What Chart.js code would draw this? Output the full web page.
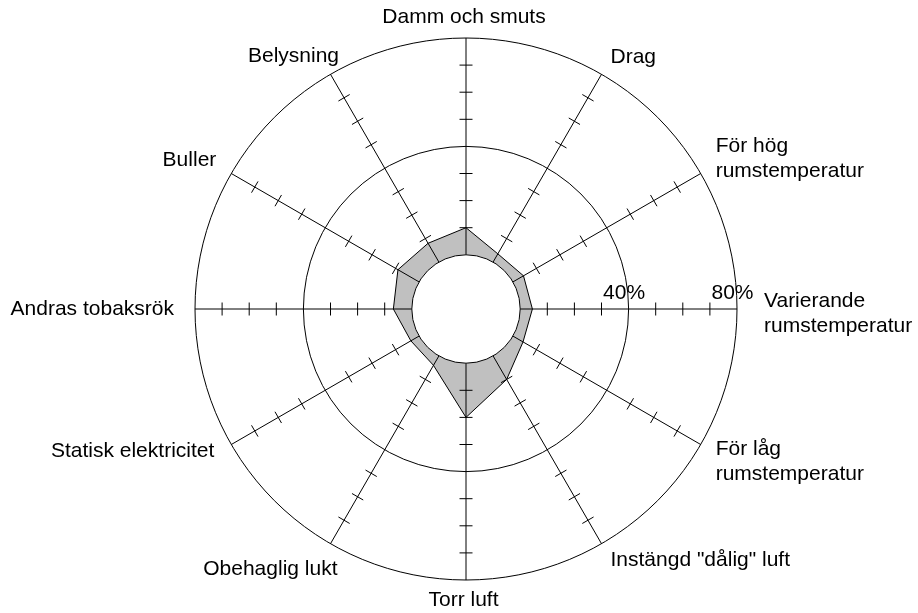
<!DOCTYPE html>
<html>
<head>
<meta charset="utf-8">
<script src="https://cdn.jsdelivr.net/npm/chart.js@4/dist/chart.umd.min.js"></script>
<style>
  html, body { margin: 0; padding: 0; background: #fff; }
  #wrap { width: 918px; height: 613px; }
</style>
</head>
<body>
<div id="wrap"><canvas id="miGrafico"></canvas></div>
<script>
// kategorier medurs från toppen
const kategorier = [
  'Damm och smuts',
  'Drag',
  ['För hög', 'rumstemperatur'],
  ['Varierande', 'rumstemperatur'],
  ['För låg', 'rumstemperatur'],
  'Instängd "dålig" luft',
  'Torr luft',
  'Obehaglig lukt',
  'Statisk elektricitet',
  'Andras tobaksrök',
  'Buller',
  'Belysning'
];

// andel (%) som upplever besvär
const andelar = [10, 3.5, 4.5, 4.5, 4.3, 10, 20, 4, 3.5, 6.8, 9, 8];

// cirklar med text, och små streck på ekrarna
const skalMarkeringar = [40, 80];
const streckVarden = [10, 20, 30, 50, 60, 70];

const typsnitt = '21px "Liberation Sans", Arial, sans-serif';

// förskjutning av etiketterna från ekerns yttre ände
const etikettFlytt = [
  [-2, -21], [9, -17.6], [15, -15], [27, 4.5], [15, 17], [9, 17],
  [-2.5, 20], [7, 26], [-17, 6.5], [-21, 0], [-15, -13.5], [8.5, -18]
];

const extraRitning = {
  id: 'extraRitning',
  afterDraw(chart) {
    const s = chart.scales.r;
    const ctx = chart.ctx;
    const n = chart.data.labels.length;
    const r0 = s.getDistanceFromCenterForValue(0);
    ctx.save();
    ctx.strokeStyle = '#000';
    ctx.lineWidth = 1;

    // ekrar ovanpå ytan, och små streck tvärs över dem
    for (let i = 0; i < n; i++) {
      const inre = s.getPointPosition(i, r0);
      const yttre = s.getPointPosition(i, s.drawingArea);
      ctx.beginPath();
      ctx.moveTo(inre.x, inre.y);
      ctx.lineTo(yttre.x, yttre.y);
      ctx.stroke();

      const a = s.getIndexAngle(i) - Math.PI / 2;
      const px = -Math.sin(a), py = Math.cos(a);
      streckVarden.forEach(v => {
        const p = s.getPointPosition(i, s.getDistanceFromCenterForValue(v));
        ctx.beginPath();
        ctx.moveTo(p.x - px * 6.5, p.y - py * 6.5);
        ctx.lineTo(p.x + px * 6.5, p.y + py * 6.5);
        ctx.stroke();
      });
    }

    // vitt hål i mitten (0 %)
    ctx.beginPath();
    ctx.arc(s.xCenter, s.yCenter, r0, 0, 2 * Math.PI);
    ctx.fillStyle = '#fff';
    ctx.fill();
    ctx.stroke();

    // 40% och 80%
    ctx.fillStyle = '#000';
    ctx.font = typsnitt;
    ctx.textAlign = 'center';
    ctx.textBaseline = 'alphabetic';
    skalMarkeringar.forEach(v => {
      const p = s.getPointPosition(3, s.getDistanceFromCenterForValue(v));
      ctx.fillText(v + '%', p.x - 4.5, p.y - 10);
    });

    // kategorietiketter
    ctx.textBaseline = 'middle';
    for (let i = 0; i < n; i++) {
      const rader = [].concat(chart.data.labels[i]);
      const e = s.getPointPosition(i, s.drawingArea);
      const sin = Math.sin(s.getIndexAngle(i));
      ctx.textAlign = Math.abs(sin) < 0.01 ? 'center' : (sin > 0 ? 'left' : 'right');
      const x = e.x + etikettFlytt[i][0];
      const y0 = e.y + etikettFlytt[i][1] - (rader.length - 1) * 25 / 2;
      rader.forEach((t, k) => ctx.fillText(t, x, y0 + k * 25));
    }
    ctx.restore();
  }
};

var ctx = document.getElementById('miGrafico').getContext('2d');

var chart = new Chart(ctx, {
  type: 'radar',
  data: {
    labels: kategorier,
    datasets: [{
      label: 'Besvär',
      data: andelar,
      backgroundColor: '#c0c0c0',
      borderColor: '#000',
      borderWidth: 1,
      pointRadius: 0,
      fill: true
    }]
  },
  options: {
    responsive: true,
    maintainAspectRatio: false,
    animation: false,
    layout: { padding: { top: 38, bottom: 33, left: 15, right: 0 } },
    plugins: {
      legend: { display: false },
      tooltip: { enabled: false }
    },
    scales: {
      r: {
        z: 1,
        min: -20,
        max: 80,
        ticks: { display: false, stepSize: 10 },
        grid: {
          circular: true,
          lineWidth: 1,
          color: c => skalMarkeringar.includes(c.tick.value) ? '#000' : 'rgba(0,0,0,0)'
        },
        angleLines: { display: false },
        pointLabels: { display: false }
      }
    }
  },
  plugins: [extraRitning]
});
</script>
</body>
</html>
